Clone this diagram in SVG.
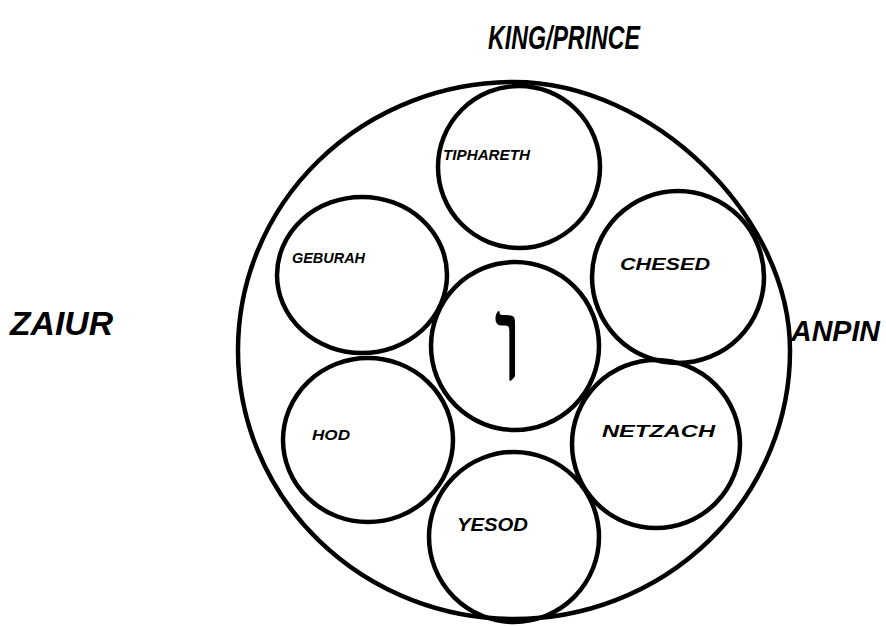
<svg xmlns="http://www.w3.org/2000/svg" width="886" height="626" viewBox="0 0 886 626">
<style>
.ring{fill:none;stroke:#000;stroke-width:4.5;stroke-linejoin:round}
.lbl{font-family:"Liberation Sans",Arial,sans-serif;font-style:italic;font-weight:bold;fill:#000}
.big{font-family:"Liberation Sans",Arial,sans-serif;font-style:italic;font-weight:bold;fill:#000}
</style>
<rect width="886" height="626" fill="#fff"/>
<g id="title"><text class="big" x="488" y="49" font-size="34" textLength="152" lengthAdjust="spacingAndGlyphs">KING/PRINCE</text></g>
<g id="zaiur"><text class="big" x="10" y="335" font-size="34" textLength="103" lengthAdjust="spacingAndGlyphs">ZAIUR</text></g>
<g id="outer"><path class="ring" d="M514,82 C652,82 790,216 790,350 A276,268 0 0 1 514,619 A276,268 0 0 1 238,350 A276,268 0 0 1 514,82 Z"/></g>
<g id="anpin"><text class="big" x="791" y="341" font-size="29" textLength="89" lengthAdjust="spacingAndGlyphs">ANPIN</text></g>
<g id="tiphareth"><circle class="ring" cx="519" cy="167" r="81"/><text class="lbl" x="443" y="160" font-size="14" textLength="87" lengthAdjust="spacingAndGlyphs">TIPHARETH</text></g>
<g id="geburah"><ellipse class="ring" cx="362" cy="275" rx="85" ry="78"/><text class="lbl" x="292" y="263" font-size="15" textLength="73" lengthAdjust="spacingAndGlyphs">GEBURAH</text></g>
<g id="chesed"><circle class="ring" cx="678" cy="277" r="86"/><text class="lbl" x="620" y="270" font-size="17" textLength="90" lengthAdjust="spacingAndGlyphs">CHESED</text></g>
<g id="center"><circle class="ring" cx="515" cy="346" r="84"/><text x="509" y="380" font-family="Liberation Serif,DejaVu Serif,serif" font-size="118" text-anchor="middle" fill="#000">ו</text></g>
<g id="hod"><ellipse class="ring" cx="368" cy="440" rx="85" ry="82"/><text class="lbl" x="312" y="440" font-size="15" textLength="38" lengthAdjust="spacingAndGlyphs">HOD</text></g>
<g id="netzach"><circle class="ring" cx="656" cy="444" r="84"/><text class="lbl" x="602" y="437" font-size="17" textLength="113" lengthAdjust="spacingAndGlyphs">NETZACH</text></g>
<g id="yesod"><circle class="ring" cx="514" cy="537" r="85"/><text class="lbl" x="457" y="531" font-size="19" textLength="71" lengthAdjust="spacingAndGlyphs">YESOD</text></g>
<g id="connectors"></g>
</svg>
